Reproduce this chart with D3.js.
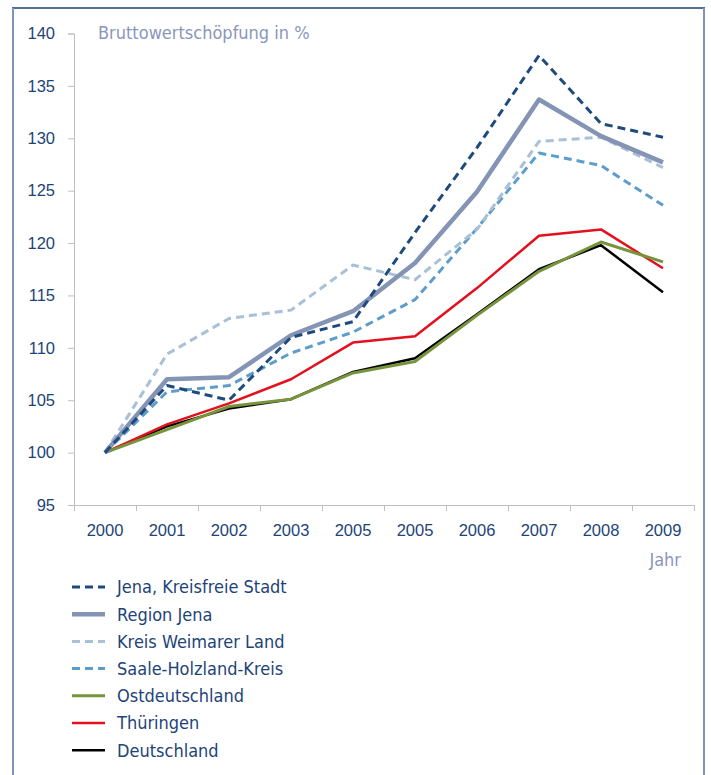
<!DOCTYPE html>
<html lang="de">
<head>
    <meta charset="UTF-8">
    <title>Bruttowertschöpfung in %</title>
    <script src="https://d3js.org/d3.v7.min.js"></script>
    <style>
        body {
            margin: 0;
            background: #fff;
        }
        svg {
            display: block;
            font-family: 'DejaVu Sans Condensed', 'DejaVu Sans', sans-serif;
            font-stretch: condensed;
        }
        .axis .domain, .axis line {
            stroke: #bfbfbf;
        }
        .axis text {
            fill: #1d4478;
            font-size: 16.5px;
        }
        .legend-item {
            fill: #1d4478;
            font-size: 18px;
        }
        .label {
            fill: #8b96bc;
            font-size: 18px;
        }
    </style>
</head>
<body>
    <div id="chart"></div>
    <script>
        const yearLabels = ["2000", "2001", "2002", "2003", "2005", "2005", "2006", "2007", "2008", "2009"];
        const yTicks = [95, 100, 105, 110, 115, 120, 125, 130, 135, 140];

        const jenaStadt      = [100, 106.4, 105.0, 111.0, 112.5, 121.0, 129.1, 137.9, 131.4, 130.1];
        const regionJena     = [100, 107.0, 107.2, 111.2, 113.5, 118.1, 124.9, 133.7, 130.2, 127.7];
        const weimarerLand   = [100, 109.4, 112.8, 113.6, 117.9, 116.5, 121.3, 129.7, 130.1, 127.2];
        const saaleHolzland  = [100, 105.8, 106.4, 109.5, 111.5, 114.6, 121.4, 128.6, 127.4, 123.6];
        const ostdeutschland = [100, 102.2, 104.4, 105.1, 107.6, 108.7, 113.1, 117.3, 120.1, 118.2];
        const thueringen     = [100, 102.7, 104.7, 107.0, 110.5, 111.1, 115.7, 120.7, 121.3, 117.6];
        const deutschland    = [100, 102.5, 104.2, 105.1, 107.7, 109.0, 113.2, 117.5, 119.8, 115.3];

        const series = [
            {name: "Jena, Kreisfreie Stadt", values: jenaStadt,      color: "#1f4a7e", width: 3,   dash: "8,5"},
            {name: "Region Jena",            values: regionJena,     color: "#8494b4", width: 4.5, dash: null},
            {name: "Kreis Weimarer Land",    values: weimarerLand,   color: "#a9c1d6", width: 3,   dash: "8,5"},
            {name: "Saale-Holzland-Kreis",   values: saaleHolzland,  color: "#5c9dcb", width: 3,   dash: "8,5"},
            {name: "Ostdeutschland",         values: ostdeutschland, color: "#77933c", width: 3,   dash: null},
            {name: "Thüringen",              values: thueringen,     color: "#e3101e", width: 2.5, dash: null},
            {name: "Deutschland",            values: deutschland,    color: "#000000", width: 2.5, dash: null}
        ];

        const W = 711, H = 775;
        const svg = d3.select("#chart").append("svg")
            .attr("width", W)
            .attr("height", H);

        // Rahmen
        svg.append("line").attr("x1", 12).attr("x2", 705).attr("y1", 8).attr("y2", 8)
            .attr("stroke", "#1c3f6e").attr("stroke-width", 1.5);
        svg.append("line").attr("x1", 13).attr("x2", 13).attr("y1", 8).attr("y2", H)
            .attr("stroke", "#7f96b8").attr("stroke-width", 2);
        svg.append("line").attr("x1", 704).attr("x2", 704).attr("y1", 8).attr("y2", H)
            .attr("stroke", "#7f96b8").attr("stroke-width", 2);

        const idx = d3.range(yearLabels.length);
        const x = d3.scaleBand().domain(idx).range([74, 694]);
        const y = d3.scaleLinear().domain([95, 140]).range([505, 33.5]);

        // Y-Achse
        svg.append("g")
            .attr("class", "axis")
            .attr("transform", "translate(74,0)")
            .call(d3.axisLeft(y).tickValues(yTicks).tickSize(6).tickPadding(13));

        // X-Achse: Striche an den Grenzen
        const xb = d3.scaleLinear().domain([0, yearLabels.length]).range(x.range());
        svg.append("g")
            .attr("class", "axis")
            .attr("transform", "translate(0,505)")
            .call(d3.axisBottom(xb).ticks(yearLabels.length).tickSize(6).tickFormat(""));

        // X-Achse: Beschriftung
        svg.append("g")
            .attr("class", "axis")
            .attr("transform", "translate(0,505)")
            .call(d3.axisBottom(x).tickSize(0).tickPadding(19).tickFormat(i => yearLabels[i]))
            .call(g => g.select(".domain").remove());

        svg.append("text")
            .attr("class", "label")
            .attr("x", 98).attr("y", 39)
            .text("Bruttowertschöpfung in %");

        svg.append("text")
            .attr("class", "label")
            .attr("x", 681).attr("y", 566)
            .attr("text-anchor", "end")
            .text("Jahr");

        const line = d3.line()
            .x((d, i) => x(i) + x.bandwidth() / 2)
            .y(d => y(d));

        // in umgekehrter Reihenfolge zeichnen
        svg.append("g").selectAll("path")
            .data(series.slice().reverse())
            .join("path")
            .attr("fill", "none")
            .attr("stroke", d => d.color)
            .attr("stroke-width", d => d.width)
            .attr("stroke-dasharray", d => d.dash)
            .attr("stroke-linejoin", "round")
            .attr("d", d => line(d.values));

        // Legende
        const legend = svg.append("g").selectAll("g")
            .data(series)
            .join("g")
            .attr("transform", (d, i) => `translate(0,${587 + i * 27.2})`);

        legend.append("line")
            .attr("x1", 72).attr("x2", 105)
            .attr("stroke", d => d.color)
            .attr("stroke-width", d => d.width)
            .attr("stroke-dasharray", d => d.dash);

        legend.append("text")
            .attr("class", "legend-item")
            .attr("x", 117)
            .attr("dy", "0.35em")
            .text(d => d.name);
    </script>
</body>
</html>
